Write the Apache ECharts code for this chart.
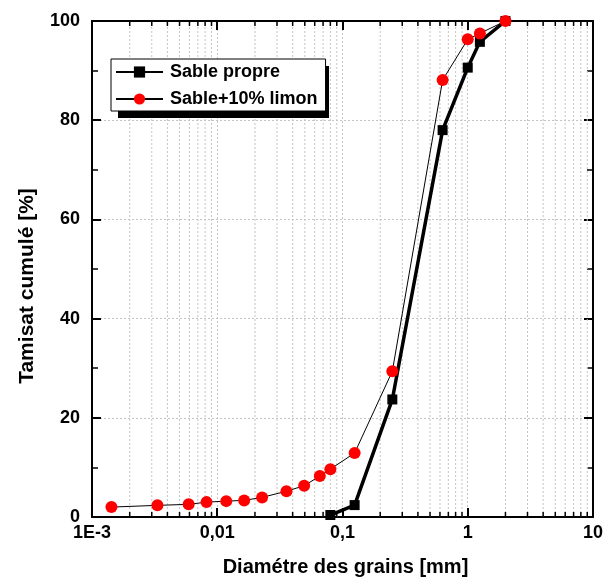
<!DOCTYPE html>
<html>
<head>
<meta charset="utf-8">
<script src="https://cdn.jsdelivr.net/npm/echarts@6/dist/echarts.min.js"></script>
<style>
  html, body { margin: 0; padding: 0; background: #fff; }
  #chart { width: 606px; height: 587px; }
</style>
</head>
<body>
<div id="chart"></div>
<script>
// sable propre (tamisage)
var cleanX = [0.08, 0.125, 0.25, 0.63, 1, 1.25, 2];
var cleanY = [0.4, 2.4, 23.7, 78, 90.6, 95.8, 100];
// sable + 10% limon (tamisage + sedimentometrie)
var siltX = [0.00143, 0.00333, 0.00591, 0.00821, 0.0118, 0.0164, 0.0228, 0.0357, 0.0494, 0.0659, 0.08, 0.125, 0.25, 0.63, 1, 1.25, 2];
var siltY = [2.0, 2.35, 2.55, 3.0, 3.2, 3.35, 3.95, 5.2, 6.3, 8.25, 9.65, 12.9, 29.4, 88.1, 96.3, 97.5, 100];

var decades = [0.001, 0.01, 0.1, 1];
var minorMult = [2, 3, 4, 5, 6, 7, 8, 9];
var xTickLabels = ['1E-3', '0,01', '0,1', '1', '10'];
var seriesNames = ['Sable propre', 'Sable+10% limon'];

var minorVals = [];
for (var i = 0; i < decades.length; i++) {
    for (var j = 0; j < minorMult.length; j++) {
        minorVals.push([decades[i] * minorMult[j]]);
    }
}

function pairs(xs, ys) {
    var out = [];
    for (var i = 0; i < xs.length; i++) out.push([xs[i], ys[i]]);
    return out;
}

var fontFam = 'Liberation Sans';
var gridLine = { show: true, lineStyle: { color: '#c4c4c4', type: [2, 2], width: 1 } };

var chart = echarts.init(document.getElementById('chart'));
chart.setOption({
    animation: false,
    backgroundColor: '#fff',
    grid: { left: 92, right: 11, top: 21, bottom: 70, containLabel: false },
    // drop shadow behind the legend box
    graphic: [{
        type: 'rect', left: 118, top: 66, z: 3, silent: true,
        shape: { width: 211, height: 52 },
        style: { fill: '#000' }
    }],
    legend: {
        orient: 'vertical',
        left: 111, top: 59, z: 5,
        padding: [4, 8, 3, 4],
        itemWidth: 47, itemHeight: 14, itemGap: 9,
        backgroundColor: '#fff',
        borderColor: '#000', borderWidth: 1,
        textStyle: { fontFamily: fontFam, fontWeight: 'bold', fontSize: 18, lineHeight: 18, color: '#000', padding: [0, 0, 0, 2] },
        data: seriesNames
    },
    xAxis: [{
        type: 'log', logBase: 10, min: 0.001, max: 10,
        position: 'bottom',
        name: 'Diamétre des grains [mm]',
        nameLocation: 'middle', nameGap: 40,
        nameTextStyle: { fontFamily: fontFam, fontWeight: 'bold', fontSize: 20, color: '#000', padding: [0, 0, 0, 6] },
        axisLine: { show: true, onZero: false, lineStyle: { color: '#000', width: 2 } },
        axisTick: { show: true, inside: true, length: 9, lineStyle: { color: '#000', width: 2 } },
        axisLabel: {
            margin: 7,
            formatter: function (v) {
                return xTickLabels[Math.round(Math.log10(v)) + 3];
            },
            fontFamily: fontFam, fontWeight: 'bold', fontSize: 18, color: '#000'
        },
        splitLine: gridLine
    }, {
        type: 'log', logBase: 10, min: 0.001, max: 10,
        position: 'top',
        axisLine: { show: true, onZero: false, lineStyle: { color: '#000', width: 2 } },
        axisTick: { show: true, inside: true, length: 9, lineStyle: { color: '#000', width: 2 } },
        axisLabel: { show: false },
        splitLine: { show: false }
    }],
    yAxis: [{
        type: 'value', min: 0, max: 100, interval: 20,
        position: 'left',
        name: 'Tamisat cumulé [%]',
        nameLocation: 'middle', nameGap: 54, nameRotate: 90,
        nameTextStyle: { fontFamily: fontFam, fontWeight: 'bold', fontSize: 21, color: '#000', padding: [0, 34, 0, 0] },
        axisLine: { show: true, onZero: false, lineStyle: { color: '#000', width: 2 } },
        axisTick: { show: true, inside: true, length: 9, lineStyle: { color: '#000', width: 2 } },
        minorTick: { show: true, splitNumber: 2, length: 6, lineStyle: { color: '#000', width: 1.5 } },
        axisLabel: { margin: 12, fontFamily: fontFam, fontWeight: 'bold', fontSize: 18, color: '#000' },
        splitLine: gridLine
    }, {
        type: 'value', min: 0, max: 100, interval: 20,
        position: 'right',
        axisLine: { show: true, onZero: false, lineStyle: { color: '#000', width: 2 } },
        axisTick: { show: true, inside: true, length: 9, lineStyle: { color: '#000', width: 2 } },
        minorTick: { show: true, splitNumber: 2, length: 6, lineStyle: { color: '#000', width: 1.5 } },
        axisLabel: { show: false },
        splitLine: { show: false }
    }],
    series: [{
        // minor log grid + ticks
        type: 'custom',
        silent: true,
        z: 1,
        xAxisIndex: 0, yAxisIndex: 0,
        data: minorVals,
        renderItem: function (params, api) {
            var b = api.coord([api.value(0), 0]);
            var t = api.coord([api.value(0), 100]);
            return {
                type: 'group',
                children: [{
                    type: 'line',
                    shape: { x1: b[0], y1: b[1], x2: t[0], y2: t[1] },
                    style: { stroke: '#c4c4c4', lineWidth: 1, lineDash: [2, 2] }
                }, {
                    type: 'line',
                    shape: { x1: b[0], y1: b[1], x2: b[0], y2: b[1] - 5 },
                    style: { stroke: '#000', lineWidth: 1.5 }
                }, {
                    type: 'line',
                    shape: { x1: t[0], y1: t[1], x2: t[0], y2: t[1] + 5 },
                    style: { stroke: '#000', lineWidth: 1.5 }
                }]
            };
        }
    }, {
        name: seriesNames[0],
        type: 'line',
        z: 3,
        data: pairs(cleanX, cleanY),
        symbol: 'rect', symbolSize: 10,
        lineStyle: { color: '#000', width: 3.5 },
        itemStyle: { color: '#000' }
    }, {
        name: seriesNames[1],
        type: 'line',
        z: 4,
        data: pairs(siltX, siltY),
        symbol: 'circle', symbolSize: 12,
        lineStyle: { color: '#000', width: 1 },
        itemStyle: { color: '#ff0000' }
    }]
});
</script>
</body>
</html>
